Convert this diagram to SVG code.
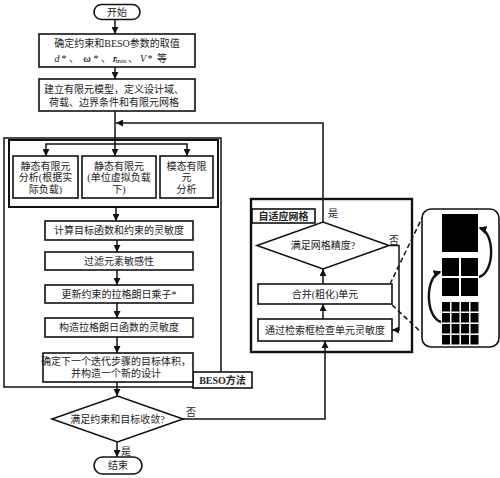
<svg xmlns="http://www.w3.org/2000/svg" width="500" height="478" viewBox="0 0 500 478">
<style>
text{font-family:"Liberation Serif","Noto Sans CJK SC",serif;font-size:10px;fill:#222;text-anchor:middle}
.b{fill:#fff;stroke:#111;stroke-width:1.6}
.t{fill:none;stroke:#111;stroke-width:2.4}
.c{fill:none;stroke:#111;stroke-width:1.5}
.d{fill:none;stroke:#111;stroke-width:1.5;stroke-dasharray:5 3}
.bold{font-weight:bold}
.sq{fill:#000}
</style>
<defs>
<marker id="a" viewBox="0 0 10 10" refX="10" refY="5" markerWidth="7" markerHeight="7" markerUnits="userSpaceOnUse" orient="auto"><path d="M0,0 L10,5 L0,10 z" fill="#111"/></marker>
<marker id="a2" viewBox="0 0 10 10" refX="8" refY="5" markerWidth="8" markerHeight="8" markerUnits="userSpaceOnUse" orient="auto"><path d="M0,0 L10,5 L0,10 z" fill="#111"/></marker>
</defs>

<g id="beso-frame">
<rect x="4" y="138" width="217" height="249" class="c"/>
<rect x="9" y="140" width="209" height="67" fill="none" stroke="#111" stroke-width="2"/>
<rect x="193" y="372" width="59" height="16" class="b"/>
<text x="222.5" y="384" class="bold">BESO方法</text>
</g>

<g id="adaptive-frame">
<rect x="251" y="199" width="161" height="153" class="t"/>
<rect x="252" y="209" width="63" height="14" class="b"/>
<text x="283.5" y="220" class="bold">自适应网格</text>
</g>

<g id="connectors">
<path d="M115,19 V34" class="c" marker-end="url(#a)"/>
<path d="M115,67 V79" class="c" marker-end="url(#a)"/>
<path d="M115,111 V156" class="c" marker-end="url(#a)"/>
<path d="M115,144 H46 V156" class="c" marker-end="url(#a)"/>
<path d="M115,144 H187 V156" class="c" marker-end="url(#a)"/>
<path d="M323,222 V123 H116" class="c" marker-end="url(#a)"/>
<path d="M116,207 V221" class="c" marker-end="url(#a)"/>
<path d="M117,240 V252" class="c" marker-end="url(#a)"/>
<path d="M117,270 V285" class="c" marker-end="url(#a)"/>
<path d="M117,303 V318" class="c" marker-end="url(#a)"/>
<path d="M117,337 V353" class="c" marker-end="url(#a)"/>
<path d="M117,382 V396" class="c" marker-end="url(#a)"/>
<path d="M117,442 V457" class="c" marker-end="url(#a)"/>
<path d="M183,419 H325 V341" class="c" marker-end="url(#a)"/>
<path d="M323,319 V304" class="c" marker-end="url(#a)"/>
<path d="M323,284 V269" class="c" marker-end="url(#a)"/>
<path d="M389,245.5 H399 V330 H392" class="c" marker-end="url(#a)"/>
<path d="M390,284 L422,218" class="d"/>
<path d="M392,305 L422,333" class="d"/>
<text x="333" y="217">是</text>
<text x="394" y="244">否</text>
<text x="191" y="416">否</text>
<text x="126" y="455">是</text>
</g>

<g id="start">
<rect x="94" y="4.5" width="46" height="15" rx="7.5" class="b"/>
<text x="117" y="15.5">开始</text>
</g>

<g id="params">
<rect x="39" y="34" width="156" height="33" class="b"/>
<text x="117" y="47">确定约束和BESO参数的取值</text>
<text x="0" y="62" font-style="italic" text-anchor="start"><tspan x="57">d</tspan><tspan x="64" font-style="normal">*</tspan><tspan x="74" font-style="normal">、</tspan><tspan x="87" font-weight="bold">ω</tspan><tspan x="96" font-style="normal">*</tspan><tspan x="106" font-style="normal">、</tspan><tspan x="115" font-weight="bold">r</tspan><tspan x="121" y="63" font-size="7" font-style="normal">min</tspan><tspan x="133" y="62" font-style="normal">、</tspan><tspan x="143">V</tspan><tspan x="150" font-style="normal">*</tspan><tspan x="162" font-style="normal">等</tspan></text>
</g>

<g id="model">
<rect x="39" y="79" width="156" height="32" class="b"/>
<text x="114" y="93">建立有限元模型，定义设计域、</text>
<text x="114" y="106">荷载、边界条件和有限元网格</text>
</g>

<g id="fea-actual">
<rect x="13" y="156" width="65" height="42" class="b"/>
<text x="45.5" y="170">静态有限元</text>
<text x="45.5" y="181">分析(根据实</text>
<text x="45.5" y="193">际负载)</text>
</g>

<g id="fea-virtual">
<rect x="82" y="156" width="74" height="42" class="b"/>
<text x="119" y="170">静态有限元</text>
<text x="119" y="181">(单位虚拟负载</text>
<text x="119" y="193">下)</text>
</g>

<g id="modal">
<rect x="160" y="156" width="53" height="42" class="b"/>
<text x="186.5" y="170">模态有限</text>
<text x="186.5" y="181">元</text>
<text x="186.5" y="193">分析</text>
</g>

<g id="sensitivity">
<rect x="45" y="221" width="148" height="19" class="b"/>
<text x="119" y="234">计算目标函数和约束的灵敏度</text>
</g>

<g id="filter">
<rect x="45" y="252" width="148" height="18" class="b"/>
<text x="119" y="264.5">过滤元素敏感性</text>
</g>

<g id="lagrange">
<rect x="45" y="285" width="148" height="18" class="b"/>
<text x="119" y="297.5">更新约束的拉格朗日乘子*</text>
</g>

<g id="lagrange-sens">
<rect x="45" y="318" width="148" height="19" class="b"/>
<text x="119" y="331">构造拉格朗日函数的灵敏度</text>
</g>

<g id="next-design">
<rect x="43" y="353" width="150" height="29" class="b"/>
<text x="116" y="365">确定下一个迭代步骤的目标体积，</text>
<text x="116" y="377">并构造一个新的设计</text>
</g>

<g id="converge">
<path d="M52,419 L117.5,396 L183,419 L117.5,442 Z" class="b"/>
<text x="117.5" y="422.5">满足约束和目标收敛?</text>
</g>

<g id="end">
<rect x="94" y="457" width="48" height="17" rx="8.5" class="b"/>
<text x="118" y="469">结束</text>
</g>

<g id="mesh-check">
<path d="M257,245.5 L323,222 L389,245.5 L323,269 Z" class="b"/>
<text x="323" y="249">满足网格精度?</text>
</g>

<g id="merge">
<rect x="258" y="284" width="134" height="20" class="b"/>
<text x="325" y="297.5">合并(粗化)单元</text>
</g>

<g id="search">
<rect x="258" y="319" width="134" height="22" class="b"/>
<text x="325" y="333.5">通过检索框检查单元灵敏度</text>
</g>

<g id="mesh-panel">
<rect x="422" y="209" width="77" height="138" rx="9" class="b"/>
<rect x="442" y="214" width="36" height="38" class="sq"/>
<rect x="442" y="258" width="17" height="18" class="sq"/>
<rect x="461" y="258" width="17" height="18" class="sq"/>
<rect x="442" y="278" width="17" height="18" class="sq"/>
<rect x="461" y="278" width="17" height="18" class="sq"/>
<g class="sq">
<rect x="442" y="302" width="8" height="9.5"/><rect x="451.5" y="302" width="8" height="9.5"/><rect x="461" y="302" width="8" height="9.5"/><rect x="470.5" y="302" width="8" height="9.5"/>
<rect x="442" y="313" width="8" height="9.5"/><rect x="451.5" y="313" width="8" height="9.5"/><rect x="461" y="313" width="8" height="9.5"/><rect x="470.5" y="313" width="8" height="9.5"/>
<rect x="442" y="324" width="8" height="9.5"/><rect x="451.5" y="324" width="8" height="9.5"/><rect x="461" y="324" width="8" height="9.5"/><rect x="470.5" y="324" width="8" height="9.5"/>
<rect x="442" y="335" width="8" height="9.5"/><rect x="451.5" y="335" width="8" height="9.5"/><rect x="461" y="335" width="8" height="9.5"/><rect x="470.5" y="335" width="8" height="9.5"/>
</g>
<path d="M479,277 C495,272 495,233 480,228" fill="none" stroke="#111" stroke-width="2.4" marker-end="url(#a2)"/>
<path d="M441,322 C425,317 425,277 440,272" fill="none" stroke="#111" stroke-width="2.4" marker-end="url(#a2)"/>
</g>
</svg>
